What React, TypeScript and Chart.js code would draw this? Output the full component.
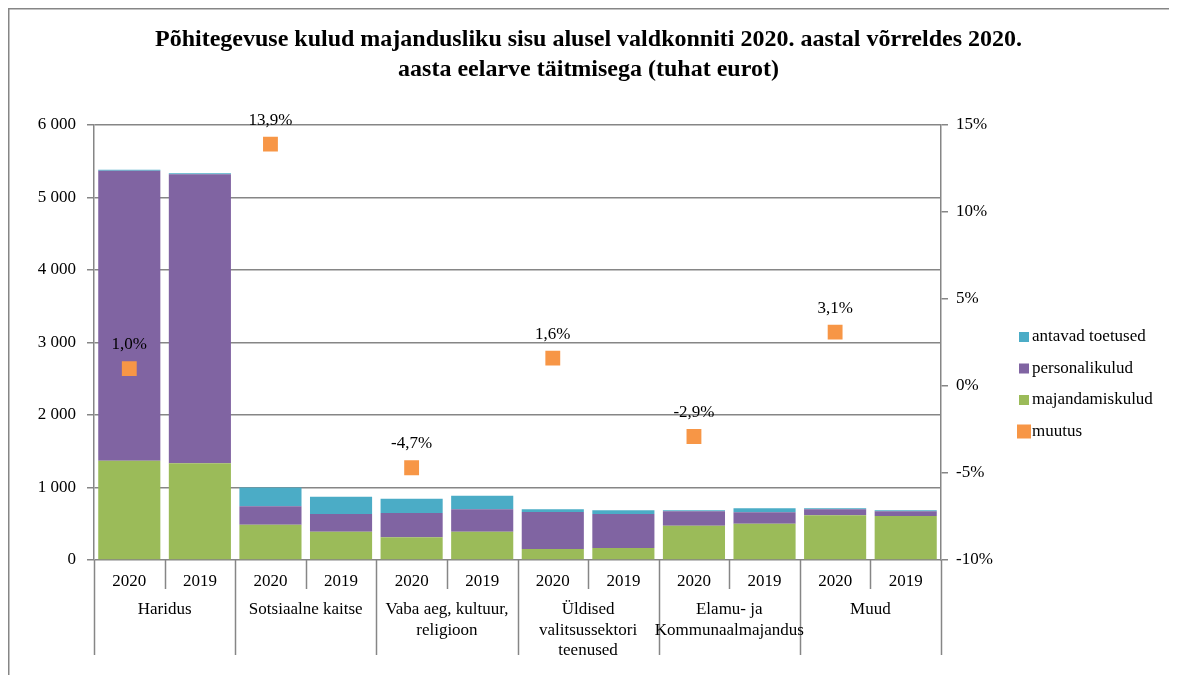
import React, { useEffect, useRef } from 'react';
import { Chart, registerables } from 'chart.js';

Chart.register(...registerables);

const categories = ['2020', '2019', '2020', '2019', '2020', '2019', '2020', '2019', '2020', '2019', '2020', '2019'];
const groupLabels = [
  ['Haridus'],
  ['Sotsiaalne kaitse'],
  ['Vaba aeg, kultuur,', 'religioon'],
  ['Üldised', 'valitsussektori', 'teenused'],
  ['Elamu- ja', 'Kommunaalmajandus'],
  ['Muud'],
];
const majandamiskulud = [1370, 1333, 485, 391, 313, 391, 152, 166, 474, 501, 616, 607];
const personalikulud = [4000, 3987, 257, 243, 335, 308, 510, 468, 199, 156, 83, 64];
const antavadToetused = [14, 14, 258, 239, 198, 188, 37, 51, 12, 56, 14, 14];
const muutus = [1.0, null, 13.9, null, -4.7, null, 1.6, null, -2.9, null, 3.1, null];
const leftTicks = [0, 1000, 2000, 3000, 4000, 5000, 6000];
const rightTicks = [-10, -5, 0, 5, 10, 15];

const titleLines = [
  'Põhitegevuse kulud majandusliku sisu alusel valdkonniti 2020. aastal võrreldes 2020.',
  'aasta eelarve täitmisega (tuhat eurot)',
];

const FONT = "'Liberation Serif', 'Times New Roman', serif";
const GREEN = '#9BBB59';
const PURPLE = '#8064A2';
const BLUE = '#4BACC6';
const ORANGE = '#F79646';
const AXIS = '#868686';

const W = 1161;
const H = 667;
const AREA_LEFT = 86;
const AREA_RIGHT = 933;
const AREA_TOP = 117;
const AREA_BOTTOM = 552;

const fmtThousands = (v: number) => {
  const s = String(Math.round(v));
  return s.replace(/\B(?=(\d{3})+(?!\d))/g, ' ');
};
const fmtPct = (v: number) => v.toFixed(1).replace('.', ',') + '%';

const decorPlugin = {
  id: 'decor',
  afterDatasetsDraw(chart: any) {
    const ctx = chart.ctx;
    const meta = chart.getDatasetMeta(3);
    ctx.save();
    ctx.font = `17px ${FONT}`;
    ctx.fillStyle = '#000';
    ctx.textAlign = 'center';
    ctx.textBaseline = 'middle';
    muutus.forEach((v, i) => {
      if (v === null) return;
      const el = meta.data[i];
      if (!el) return;
      ctx.fillText(fmtPct(v), el.x, el.y - 24);
    });
    ctx.restore();
  },
  afterDraw(chart: any) {
    const ctx = chart.ctx;
    const xs = chart.scales.x;
    const area = chart.chartArea;
    ctx.save();
    // frame
    ctx.strokeStyle = AXIS;
    ctx.lineWidth = 1.5;
    ctx.beginPath();
    ctx.moveTo(0.75, H);
    ctx.lineTo(0.75, 0.75);
    ctx.lineTo(W, 0.75);
    ctx.stroke();

    // category separators
    const n = categories.length;
    const boundary = (i: number) => {
      if (i === 0) return area.left;
      if (i === n) return area.right;
      return (xs.getPixelForValue(i - 1) + xs.getPixelForValue(i)) / 2;
    };
    ctx.lineWidth = 1.5;
    ctx.strokeStyle = AXIS;
    for (let i = 0; i <= n; i++) {
      const x = Math.round(boundary(i)) + 0.5;
      const long = i % 2 === 0;
      ctx.beginPath();
      ctx.moveTo(x, area.bottom);
      ctx.lineTo(x, area.bottom + (long ? 95 : 29));
      ctx.stroke();
    }

    // group labels
    ctx.font = `17px ${FONT}`;
    ctx.fillStyle = '#000';
    ctx.textAlign = 'center';
    ctx.textBaseline = 'middle';
    groupLabels.forEach((lines, g) => {
      const cx = (boundary(g * 2) + boundary(g * 2 + 2)) / 2;
      lines.forEach((line, k) => {
        ctx.fillText(line, cx, area.bottom + 50 + k * 20.5);
      });
    });

    // legend
    const items = [
      { label: 'antavad toetused', color: BLUE, size: 10 },
      { label: 'personalikulud', color: PURPLE, size: 10 },
      { label: 'majandamiskulud', color: GREEN, size: 10 },
      { label: 'muutus', color: ORANGE, size: 14 },
    ];
    ctx.textAlign = 'left';
    items.forEach((it, k) => {
      const cy = 329 + k * 31.5;
      const bx = 1016 - it.size / 2;
      ctx.fillStyle = it.color;
      ctx.fillRect(bx, cy - it.size / 2, it.size, it.size);
      ctx.fillStyle = '#000';
      ctx.fillText(it.label, 1024, cy);
    });
    ctx.restore();
  },
};

export default function App() {
  const ref = useRef<HTMLCanvasElement | null>(null);

  useEffect(() => {
    if (!ref.current) return;
    const chart = new Chart(ref.current, {
      type: 'bar',
      data: {
        labels: categories,
        datasets: [
          {
            label: 'majandamiskulud',
            data: majandamiskulud,
            backgroundColor: GREEN,
            yAxisID: 'y',
            order: 1,
            barPercentage: 0.88,
            categoryPercentage: 1,
          },
          {
            label: 'personalikulud',
            data: personalikulud,
            backgroundColor: PURPLE,
            yAxisID: 'y',
            order: 1,
            barPercentage: 0.88,
            categoryPercentage: 1,
          },
          {
            label: 'antavad toetused',
            data: antavadToetused,
            backgroundColor: BLUE,
            yAxisID: 'y',
            order: 1,
            barPercentage: 0.88,
            categoryPercentage: 1,
          },
          {
            type: 'line',
            label: 'muutus',
            data: muutus,
            yAxisID: 'y1',
            showLine: false,
            pointStyle: 'rect',
            pointRadius: 10.5,
            pointHoverRadius: 10.5,
            pointBackgroundColor: ORANGE,
            pointBorderColor: ORANGE,
            pointBorderWidth: 0,
            backgroundColor: ORANGE,
            borderColor: ORANGE,
            order: 0,
          } as any,
        ],
      },
      options: {
        responsive: false,
        animation: false,
        layout: { padding: 0 },
        plugins: {
          legend: { display: false },
          tooltip: { enabled: false },
          title: {
            display: true,
            text: titleLines,
            color: '#000',
            font: { family: FONT, size: 24, weight: 'bold', lineHeight: 1.25 },
            padding: { top: 17, bottom: 40 },
          },
        },
        scales: {
          x: {
            stacked: true,
            grid: { display: false, drawTicks: false },
            border: { display: false },
            ticks: {
              color: '#000',
              font: { family: FONT, size: 17 },
              padding: 11,
              maxRotation: 0,
              autoSkip: false,
            },
            afterFit: (s: any) => {
              s.height = H - AREA_BOTTOM;
            },
          },
          y: {
            stacked: true,
            position: 'left',
            min: 0,
            max: 6000,
            afterBuildTicks: (s: any) => {
              s.ticks = leftTicks.map((v) => ({ value: v }));
            },
            grid: { color: AXIS, lineWidth: 1.5, tickLength: 7, drawTicks: true },
            border: { display: true, color: AXIS, width: 1.5 },
            ticks: {
              color: '#000',
              font: { family: FONT, size: 17 },
              padding: 11,
              callback: (v: any) => fmtThousands(Number(v)),
            },
            afterFit: (s: any) => {
              s.width = AREA_LEFT;
            },
          },
          y1: {
            position: 'right',
            stacked: false,
            min: -10,
            max: 15,
            afterBuildTicks: (s: any) => {
              s.ticks = rightTicks.map((v) => ({ value: v }));
            },
            grid: { drawOnChartArea: false, color: AXIS, lineWidth: 1.5, tickLength: 7, drawTicks: true },
            border: { display: true, color: AXIS, width: 1.5 },
            ticks: {
              color: '#000',
              font: { family: FONT, size: 17 },
              padding: 8,
              callback: (v: any) => `${v}%`,
            },
            afterFit: (s: any) => {
              s.width = W - AREA_RIGHT;
            },
          },
        },
      },
      plugins: [decorPlugin],
    });
    return () => chart.destroy();
  }, []);

  return (
    <div style={{ width: W, height: H, position: 'relative' }}>
      <canvas ref={ref} width={W} height={H} style={{ display: 'block', width: W, height: H }} />
    </div>
  );
}
